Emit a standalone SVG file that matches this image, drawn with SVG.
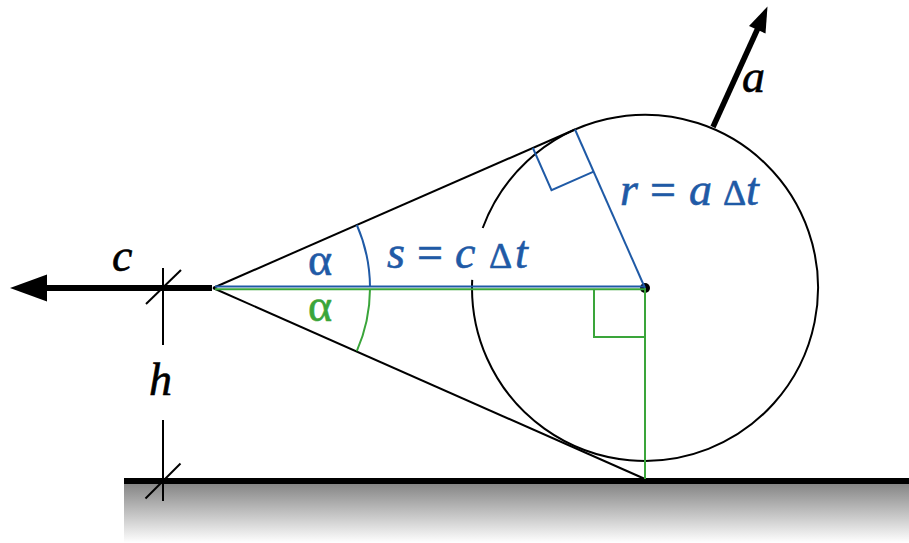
<svg xmlns="http://www.w3.org/2000/svg" width="909" height="543" viewBox="0 0 909 543">
  <defs>
    <linearGradient id="groundGrad" x1="0" y1="0" x2="0" y2="1">
      <stop offset="0" stop-color="#868686"/>
      <stop offset="1" stop-color="#ffffff"/>
    </linearGradient>
  </defs>
  <style>
    .blk { stroke: #000; fill: none; stroke-width: 2; }
    .blue { stroke: #1f5aa6; fill: none; stroke-width: 2; }
    .green { stroke: #3aa53a; fill: none; stroke-width: 2; }
    .thick { stroke: #000; fill: none; stroke-width: 6; }
    .lbl { font-family: "Liberation Serif", "Times New Roman", serif; font-size: 46px; stroke-width: 0.6; }
    .it { font-style: italic; }
    .tb { fill: #1f5aa6; stroke: #1f5aa6; }
    .tg { fill: #3aa53a; stroke: #3aa53a; }
    .tk { fill: #000; stroke: #000; }
  </style>
  <rect width="909" height="543" fill="#fff"/>

  <g id="ground">
    <rect x="124" y="484" width="785" height="59" fill="url(#groundGrad)"/>
    <line x1="124" y1="481" x2="909" y2="481" stroke="#000" stroke-width="6"/>
  </g>

  <g id="circle">
    <path class="blk" d="M482.7 228 A173 173 0 1 1 472.2 279.9"/>
    <circle cx="645" cy="288" r="5" fill="#000"/>
  </g>

  <g id="connectors">
    <line class="blk" x1="213" y1="288" x2="575" y2="129.5"/>
    <line class="blk" x1="213" y1="288" x2="645" y2="479"/>
    <line class="blue" x1="215" y1="286.5" x2="645" y2="286.5"/>
    <line class="green" x1="215" y1="289.3" x2="645" y2="289.3"/>
    <line class="green" x1="645" y1="288" x2="645" y2="479"/>
    <line class="blue" x1="645" y1="288" x2="575" y2="129.5"/>
    <path class="blue" d="M532.9 148 L551.5 190.1 L593.6 171.6"/>
    <path class="green" d="M594 289.3 V337 H645"/>
    <path class="blue" d="M370 287 A157 157 0 0 0 356.8 224.9"/>
    <path class="green" d="M370 289 A157 157 0 0 1 356.8 351.1"/>
    <line class="thick" x1="212" y1="288" x2="45" y2="288"/>
    <polygon points="10,288 47,274.5 47,301.5" fill="#000"/>
    <line x1="713" y1="127" x2="758" y2="28" stroke="#000" stroke-width="5.5"/>
    <polygon points="767.5,6.5 749,26 765.5,33.5" fill="#000"/>
    <line class="blk" x1="163" y1="268" x2="163" y2="345"/>
    <line class="blk" x1="163" y1="420" x2="163" y2="501"/>
    <line class="blk" x1="146" y1="304" x2="181" y2="270"/>
    <line class="blk" x1="145.5" y1="498.5" x2="180.5" y2="463.5"/>
  </g>

  <g id="labels">
    <text class="lbl tb" x="308" y="275" font-size="52">α</text>
    <text class="lbl tg" x="308" y="321" font-size="52">α</text>
    <text class="lbl tb" y="268"><tspan class="it" x="387">s</tspan><tspan x="417">=</tspan><tspan class="it" x="455">c</tspan><tspan x="489" font-size="36">Δ</tspan><tspan class="it" x="515">t</tspan></text>
    <text class="lbl tb" y="205"><tspan class="it" x="620">r</tspan><tspan x="650">=</tspan><tspan class="it" x="689">a</tspan><tspan x="723" font-size="36">Δ</tspan><tspan class="it" x="746">t</tspan></text>
    <text class="lbl tk it" x="112" y="271">c</text>
    <text class="lbl tk it" x="149" y="395">h</text>
    <text class="lbl tk it" x="742" y="92">a</text>
  </g>
</svg>
